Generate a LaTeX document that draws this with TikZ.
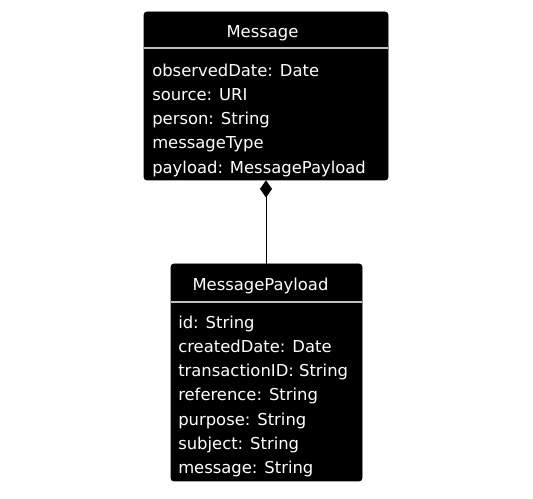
\documentclass[tikz,border=0pt]{standalone}
\usepackage{fontspec}
\setmainfont{DejaVu Sans}
\usetikzlibrary{positioning,arrows.meta}

\begin{document}
\begin{tikzpicture}[x=0.75pt, y=-0.75pt,
    classbox/.style={fill=black, draw=black, rounded corners=2pt, inner sep=0pt},
    classname/.style={text=white, inner sep=0pt, anchor=base, font=\fontsize{12.3}{15}\selectfont},
    attrs/.style={text=white, inner sep=0pt, anchor=north west, align=left, font=\fontsize{12.3}{18.15}\selectfont},
    divider/.style={draw=black!25, line width=0.8pt}]
    \useasboundingbox (0,0) rectangle (533,499);
    % Message
    \node[classbox, minimum width=183pt, minimum height=126pt] (message) at (266,96) {};
    \node[classname] (messagetitle) at (262.5,38) {Message};
    \draw[divider] (message.west |- 0,48) -- (message.east |- 0,48);
    \node[attrs] (messageattrs) at (152,63.5) {observedDate: Date\\source: URI\\person: String\\messageType\\payload: MessagePayload};
    % MessagePayload
    \node[classbox, minimum width=143.25pt, minimum height=162.75pt] (payload) at (266.5,372.5) {};
    \node[classname] (payloadtitle) at (260.5,290.5) {MessagePayload};
    \draw[divider] (payload.west |- 0,302) -- (payload.east |- 0,302);
    \node[attrs] (payloadattrs) at (178,315.5) {id: String\\createdDate: Date\\transactionID: String\\reference: String\\purpose: String\\subject: String\\message: String};
    % composition
    \draw[line width=0.7pt, {Diamond[length=13pt, width=9pt]}-] (message.south) -- (message.south |- payload.north);
\end{tikzpicture}
\end{document}
